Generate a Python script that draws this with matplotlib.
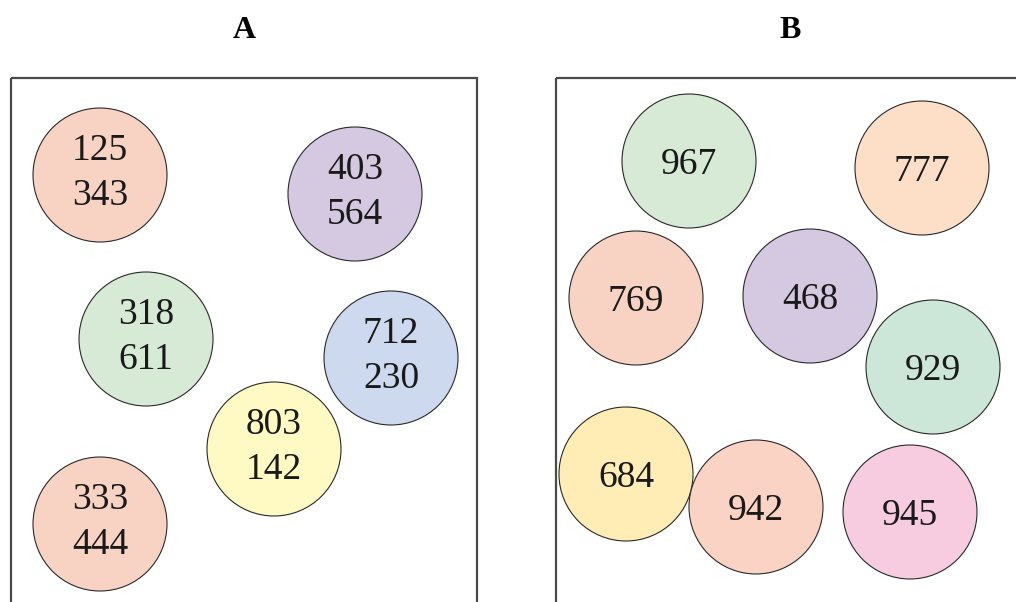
import matplotlib.pyplot as plt
from matplotlib.patches import Circle, Rectangle

# panel A circles (pixel coords of centre), labels, fill colours
a_x = [100, 355, 146, 391, 274, 100]
a_y = [175, 194, 339, 358, 449, 524]
a_labels = ["125\n343", "403\n564", "318\n611", "712\n230", "803\n142", "333\n444"]
a_colors = ["#F8D3C3", "#D5C8E1", "#D6EAD6", "#CDD9EE", "#FFF9C4", "#F8D3C3"]

# panel B
b_x = [689, 922, 636, 810, 933, 626, 756, 910]
b_y = [161, 168, 298, 296, 367, 474, 507, 512]
b_labels = ["967", "777", "769", "468", "929", "684", "942", "945"]
b_colors = ["#D6EAD6", "#FDDFC8", "#F8D3C3", "#D5C8E1", "#CCE6D8", "#FFEDB5", "#FBD3C4", "#F8CCE0"]

RADIUS = 67
FONT = "Liberation Serif"

fig = plt.figure(figsize=(10.16, 6.02), dpi=100)
ax = fig.add_axes([0, 0, 1, 1])
ax.set_xlim(0, 1016)
ax.set_ylim(602, 0)
ax.set_aspect("equal")
ax.axis("off")

# frames (bottom / right run off the picture)
ax.add_patch(Rectangle((11, 78), 466, 600, fill=False, edgecolor="#4a4a4a", linewidth=1.6))
ax.add_patch(Rectangle((556, 78), 520, 600, fill=False, edgecolor="#4a4a4a", linewidth=1.6))

ax.text(244, 30, "A", ha="center", va="center", fontsize=23, fontweight="bold", family=FONT)
ax.text(790, 30, "B", ha="center", va="center", fontsize=23, fontweight="bold", family=FONT)

def draw_circles(xs, ys, labels, colors, dy):
    for x, y, lab, c in zip(xs, ys, labels, colors):
        ax.add_patch(Circle((x, y), RADIUS, facecolor=c, edgecolor="#2a2a2a", linewidth=0.8))
        ax.text(x, y + dy, lab, ha="center", va="center", fontsize=27, family=FONT,
                color="#1a1a1a", linespacing=1.38)

draw_circles(a_x, a_y, a_labels, a_colors, -2)
draw_circles(b_x, b_y, b_labels, b_colors, 4)

fig.savefig("out.png", dpi=100)
